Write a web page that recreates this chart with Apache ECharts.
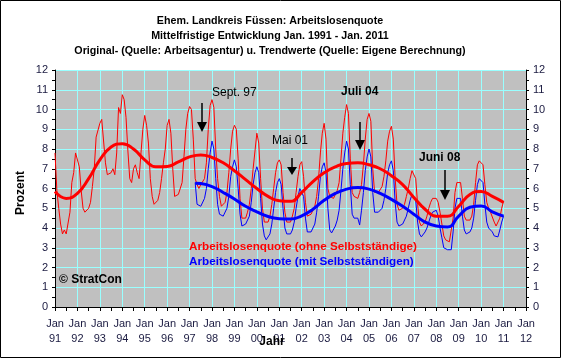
<!DOCTYPE html>
<html><head><meta charset="utf-8">
<script src="https://cdn.jsdelivr.net/npm/echarts@6/dist/echarts.min.js"></script>
<style>html,body{margin:0;padding:0;background:#fff}#c{width:561px;height:358px}</style>
</head><body><div id="c"></div><script>
// ---- data ----
const startYear = 1991;
const yearLabels = ['91','92','93','94','95','96','97','98','99','00','01','02','03','04','05','06','07','08','09','10','11','12'];
// Arbeitslosenquote ohne Selbstständige, monthly Jan 1991 .. Jan 2011
const redMonthly = [
 7.8,5.9,5.0,4.2,3.7,3.9,3.7,3.65,4.8,6.3,6.8,7.8,
 7.7,7.1,5.9,5.0,4.8,4.75,5.0,5.3,6.1,7.0,8.6,8.7,
 9.3,9.5,9.4,7.3,6.7,6.6,6.8,7.0,6.7,7.8,10.1,9.8,
 10.75,10.5,9.6,7.9,6.5,6.3,7.0,7.2,6.8,6.5,7.8,9.0,
 9.7,9.2,8.3,6.5,5.6,5.2,5.1,5.4,5.8,6.5,7.3,8.0,
 9.2,9.5,8.8,7.0,5.6,5.5,5.7,5.8,6.3,7.6,9.0,9.8,
 10.15,10.0,8.5,6.5,6.2,6.0,6.2,6.3,6.5,7.3,9.0,10.2,
 10.5,10.1,8.0,6.5,5.6,5.1,5.1,5.3,5.8,6.8,8.0,8.9,
 9.2,9.0,7.5,5.5,4.5,4.4,4.5,4.8,5.2,6.0,7.0,7.9,
 8.8,8.3,6.5,5.0,4.3,4.25,4.3,4.6,5.2,6.0,6.8,7.3,
 7.45,7.2,5.8,4.8,4.3,4.2,4.3,4.6,5.0,5.8,6.6,7.2,
 7.36,6.6,5.3,4.6,4.6,4.7,4.9,5.1,5.6,6.5,7.8,8.8,
 9.3,8.5,6.0,5.6,5.6,5.5,5.7,5.9,6.3,7.5,8.8,9.6,
 10.25,9.8,7.5,5.8,5.6,5.7,5.5,5.8,6.2,7.2,8.5,9.5,
 9.8,9.4,7.0,5.8,5.7,5.8,5.9,6.1,6.6,7.4,8.4,8.9,
 9.15,8.5,6.5,5.2,4.9,4.9,5.0,5.2,5.6,6.0,6.5,6.9,
 7.0,6.5,5.2,4.3,4.1,4.1,4.3,4.6,5.0,5.3,5.5,5.5,
 5.5,5.3,4.8,4.2,3.6,3.4,3.3,3.3,3.2,4.5,5.8,6.3,
 6.4,6.3,5.5,4.6,4.4,4.3,4.4,4.6,5.2,6.3,7.2,7.4,
 7.45,7.2,6.2,5.3,5.0,4.8,4.8,4.3,4.1,4.1,4.5,5.0,
 5.35
];
// Arbeitslosenquote mit Selbstständigen, monthly Apr 1997 .. Jan 2011
const blueStartMonth = 75; // months after Jan 1991
const blueMonthly = [
 6.3,5.2,5.1,5.1,5.2,5.5,6.0,7.0,7.8,
 8.4,8.0,6.5,5.2,4.7,4.6,4.6,4.7,5.0,5.6,6.6,7.1,
 7.45,7.1,6.0,4.7,4.1,4.1,4.2,4.3,4.6,5.3,6.2,6.8,
 7.1,6.8,5.5,4.2,3.6,3.4,3.5,3.7,4.2,5.0,5.8,6.3,
 6.5,6.2,5.0,4.0,3.7,3.6,3.7,3.9,4.3,5.0,5.6,6.0,
 6.1,5.6,4.5,3.8,3.75,3.8,3.9,4.2,4.8,5.6,6.6,7.1,
 7.3,6.8,5.0,3.9,3.75,3.8,4.1,4.4,4.9,5.9,7.0,7.8,
 8.4,8.0,6.2,4.7,4.5,4.6,4.5,4.15,4.9,5.8,6.9,7.6,
 8.0,7.6,5.8,4.8,4.75,4.8,4.9,5.0,5.4,6.0,6.8,7.2,
 7.4,6.9,5.3,4.3,4.1,4.1,4.2,4.3,4.6,5.0,5.4,5.7,
 5.8,5.4,4.3,3.7,3.55,3.6,3.8,4.0,4.3,4.6,4.8,4.9,
 4.9,4.6,4.0,3.5,3.0,2.9,2.9,2.9,2.9,3.8,5.0,5.5,
 5.6,5.5,4.6,3.9,3.7,3.7,3.8,4.0,4.5,5.4,6.2,6.5,
 6.6,6.3,5.2,4.3,4.0,3.9,3.8,3.6,3.55,3.55,3.9,4.3,
 4.6
];
// Trend values (half-yearly)
const redTrendYears = [1991,1991.5,1992,1992.5,1993,1993.5,1994,1994.5,1995,1995.5,1996,1996.5,1997,1997.5,1998,1998.5,1999,1999.5,2000,2000.5,2001,2001.5,2002,2002.5,2003,2003.5,2004,2004.5,2005,2005.5,2006,2006.5,2007,2007.5,2008,2008.5,2009,2009.5,2010,2010.5,2011];
const redTrend = [5.85,5.5,5.75,6.5,7.45,8.1,8.27,8.0,7.45,7.1,7.12,7.35,7.6,7.7,7.57,7.3,6.9,6.45,6.0,5.6,5.38,5.35,5.8,6.35,6.8,7.1,7.27,7.3,7.2,7.0,6.65,6.2,5.55,4.95,4.6,4.6,5.1,5.7,5.85,5.6,5.3];
const blueTrendYears = [1997.25,1997.5,1998,1998.5,1999,1999.5,2000,2000.5,2001,2001.5,2002,2002.5,2003,2003.5,2004,2004.5,2005,2005.5,2006,2006.5,2007,2007.5,2008,2008.5,2009,2009.5,2010,2010.5,2011];
const blueTrend = [6.27,6.25,6.1,5.8,5.47,5.1,4.82,4.58,4.47,4.45,4.62,4.95,5.4,5.75,5.97,6.05,5.97,5.75,5.45,5.1,4.7,4.3,4.1,4.05,4.6,5.05,5.12,4.82,4.6];

const titleLines = ['Ehem. Landkreis Füssen: Arbeitslosenquote','Mittelfristige Entwicklung Jan. 1991 - Jan. 2011','Original- (Quelle: Arbeitsagentur) u. Trendwerte (Quelle: Eigene Berechnung)'];
const legendRed = 'Arbeitslosenquote (ohne Selbstständige)';
const legendBlue = 'Arbeitslosenquote (mit Selbstständigen)';

// ---- build ----
const redData = redMonthly.map((v,i)=>[startYear + i/12, v]);
const blueData = blueMonthly.map((v,i)=>[startYear + (blueStartMonth+i)/12, v]);
const redTrendData = redTrend.map((v,i)=>[redTrendYears[i], v]);
const blueTrendData = blueTrend.map((v,i)=>[blueTrendYears[i], v]);

const FONT = '"Liberation Sans", Arial, sans-serif';
const grid = '#99ffff';
function arrow(x, y1, y2, hw, hh){
  return [
    {type:'line', shape:{x1:x,y1:y1,x2:x,y2:y2}, style:{stroke:'#000',lineWidth:1.5}, z:100},
    {type:'polygon', shape:{points:[[x-hw,y2],[x+hw,y2],[x,y2+hh]]}, style:{fill:'#000'}, z:100}
  ];
}
const chart = echarts.init(document.getElementById('c'), null, {renderer:'canvas'});
const yAxisBase = {
  type:'value', min:0, max:12, interval:1,
  axisLine:{show:true, lineStyle:{color:'#000', width:1}},
  axisTick:{show:true, length:3, lineStyle:{color:'#000'}},
  minorTick:{show:true, splitNumber:2, length:3, lineStyle:{color:'#000'}},
  axisLabel:{fontFamily:FONT, fontSize:11, color:'#1a1a40', margin:7}
};
chart.setOption({
  animation:false,
  backgroundColor:'#fff',
  grid:{left:55, right:35, top:70, bottom:51, show:true, backgroundColor:'#c0c0c0', borderWidth:0},
  xAxis:{
    type:'value', min:1991, max:2012, interval:1,
    axisLine:{show:true, onZero:false, lineStyle:{color:'#000', width:1}},
    axisTick:{show:true, length:4, lineStyle:{color:'#000'}},
    minorTick:{show:true, splitNumber:2, length:4, lineStyle:{color:'#000'}},
    splitLine:{show:true, lineStyle:{color:grid, width:1}},
    axisLabel:{fontFamily:FONT, fontSize:11, color:'#1a1a40', margin:9, lineHeight:15,
      formatter:(v)=>'Jan\n' + yearLabels[Math.round(v-startYear)]}
  },
  yAxis:[
    Object.assign({}, yAxisBase, {position:'left', splitLine:{show:true, lineStyle:{color:grid, width:1}}}),
    Object.assign({}, yAxisBase, {position:'right', splitLine:{show:false}})
  ],
  series:[
    {type:'line', data:redData, showSymbol:false, symbol:'none', lineStyle:{color:'#ff0000', width:1}, z:2},
    {type:'line', data:blueData, showSymbol:false, symbol:'none', lineStyle:{color:'#0000ff', width:1}, z:3},
    {type:'line', data:redTrendData, smooth:true, showSymbol:false, symbol:'none', lineStyle:{color:'#ff0000', width:3}, z:4},
    {type:'line', data:blueTrendData, smooth:true, showSymbol:false, symbol:'none', lineStyle:{color:'#0000ff', width:3}, z:5}
  ],
  graphic:[
    {type:'rect', shape:{x:0.5,y:0.5,width:560,height:357}, style:{fill:'none', stroke:'#000', lineWidth:1}, z:200},
    {type:'text', x:270, y:21, style:{text:titleLines[0], font:'bold 10.7px '+FONT, fill:'#000', textAlign:'center', textVerticalAlign:'middle'}},
    {type:'text', x:270, y:36, style:{text:titleLines[1], font:'bold 10.7px '+FONT, fill:'#000', textAlign:'center', textVerticalAlign:'middle'}},
    {type:'text', x:270, y:51, style:{text:titleLines[2], font:'bold 10.7px '+FONT, fill:'#000', textAlign:'center', textVerticalAlign:'middle'}},
    {type:'text', x:21, y:193, rotation:Math.PI/2, style:{text:'Prozent', font:'bold 12px '+FONT, fill:'#000', textAlign:'center', textVerticalAlign:'middle'}},
    {type:'text', x:272, y:342, style:{text:'Jahr', font:'bold 12px '+FONT, fill:'#000', textAlign:'center', textVerticalAlign:'middle'}, z:100},
    {type:'text', x:59, y:280, style:{text:'© StratCon', font:'bold 12px '+FONT, fill:'#000', textAlign:'left', textVerticalAlign:'middle'}, z:100},
    {type:'text', x:189, y:247, style:{text:legendRed, font:'bold 11.7px '+FONT, fill:'#ff0000', textAlign:'left', textVerticalAlign:'middle'}, z:100},
    {type:'text', x:189, y:262, style:{text:legendBlue, font:'bold 11.7px '+FONT, fill:'#0000ff', textAlign:'left', textVerticalAlign:'middle'}, z:100},
    {type:'text', x:212, y:93, style:{text:'Sept. 97', font:'12px '+FONT, fill:'#000', textAlign:'left', textVerticalAlign:'middle'}, z:100},
    {type:'text', x:272, y:141, style:{text:'Mai 01', font:'12px '+FONT, fill:'#000', textAlign:'left', textVerticalAlign:'middle'}, z:100},
    {type:'text', x:341, y:92, style:{text:'Juli 04', font:'bold 12px '+FONT, fill:'#000', textAlign:'left', textVerticalAlign:'middle'}, z:100},
    {type:'text', x:419, y:158, style:{text:'Juni 08', font:'bold 12px '+FONT, fill:'#000', textAlign:'left', textVerticalAlign:'middle'}, z:100},
    ...arrow(202, 103, 122, 5, 10),
    ...arrow(292, 158, 167, 5, 8),
    ...arrow(360, 122, 140, 5, 10),
    ...arrow(445, 170, 190, 5, 10)
  ]
});
</script></body></html>
